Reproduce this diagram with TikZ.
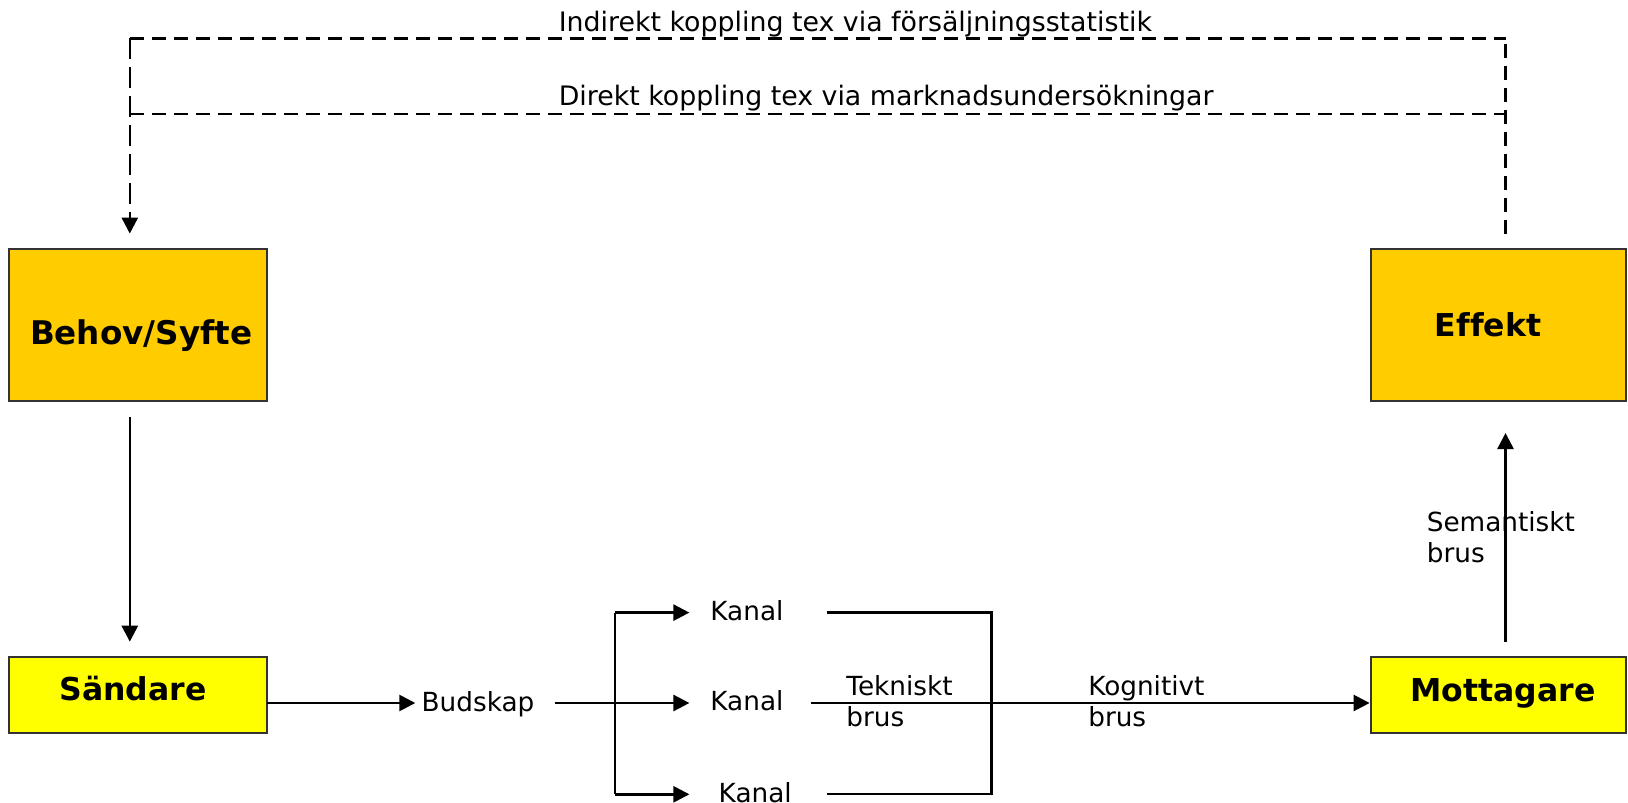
\documentclass[tikz,border=0pt]{standalone}
\usepackage{fontspec}
\setmainfont{DejaVu Sans}[Ligatures=NoCommon]
\usetikzlibrary{arrows.meta}
\definecolor{orangebox}{HTML}{FFCC00}
\definecolor{yellowbox}{HTML}{FFFF00}
\definecolor{boxline}{HTML}{333333}
\begin{document}
\begin{tikzpicture}[x=1pt,y=-1pt,
  tip/.style={-{Triangle[length=16pt,width=16pt]}},
  arr/.style={line width=2.6pt,tip},
  plain/.style={line width=2.3pt},
  dashh/.style={line width=2.3pt,dash pattern=on 14pt off 8pt},
  dashr/.style={line width=2.1pt,dash pattern=on 14pt off 8pt},
  dashl/.style={line width=2.6pt,dash pattern=on 21pt off 8pt},
  obox/.style={draw=boxline,line width=2pt,fill=orangebox,inner sep=0pt},
  ybox/.style={draw=boxline,line width=2pt,fill=yellowbox,inner sep=0pt},
  btxt/.style={font=\fontsize{31.5}{36}\selectfont\bfseries,inner sep=0pt},
  txt/.style={font=\fontsize{26.3}{31}\selectfont,inner sep=0pt,align=left},
  ttxt/.style={font=\fontsize{26.8}{31}\selectfont,inner sep=0pt}
]
\useasboundingbox (0,0) rectangle (1628,803);

% boxes
\node[obox,minimum width=257.5pt,minimum height=151.6pt] (b) at (138.05,325) {};
\node[obox,minimum width=255.4pt,minimum height=151.6pt] (e) at (1498.3,325) {};
\node[ybox,minimum width=257.5pt,minimum height=75.8pt] (s) at (138.05,695.1) {};
\node[ybox,minimum width=255.4pt,minimum height=75.8pt] (m) at (1498.3,695.1) {};

% box texts
\node[btxt,font=\fontsize{32.6}{36}\selectfont\bfseries] (bT) at (141.2,335.4) {Behov/Syfte};
\node[btxt] (eT) at (1488,325) {Effekt};
\node[btxt] (sT) at (132.9,688.9) {Sändare};
\node[btxt] (mT) at (1503,693) {Mottagare};

% text nodes
\node[txt,anchor=west] (bud) at (421.5,704.6) {Budskap};
\node[txt,anchor=west] (k1) at (710.2,610.5) {Kanal};
\node[txt,anchor=west] (k2) at (710.2,700.9) {Kanal};
\node[txt,anchor=west] (k3) at (718.5,792.2) {Kanal};
\node[txt,anchor=west] (tb) at (846.2,701.4) {Tekniskt\\brus};
\node[txt,anchor=west] (kb) at (1088.1,701.4) {Kognitivt\\brus};
\node[txt,anchor=west] (sb) at (1426.6,536.8) {Semantiskt\\brus};
\node[ttxt,anchor=west] (ind) at (558.6,23.9) {Indirekt koppling tex via försäljningsstatistik};
\node[ttxt,anchor=west] (dir) at (558.6,98.6) {Direkt koppling tex via marknadsundersökningar};

% feedback dashed lines
\coordinate (tl) at (129.8,38.4);
\coordinate (tr) at (1505.5,38.4);
\coordinate (dl) at (129.8,114.2);
\coordinate (dr) at (1505.5,114.2);
\coordinate (la) at (129.8,233.6);
\coordinate (ra) at (1505.5,233.6);
\draw[dashh] (tl) -- (tr);
\draw[dashh] (dl) -- (dr);
\draw[dashr] (ra) -- (tr);
\draw[dashl,tip] (tl) -- (la);

% Behov -> Sändare
\coordinate (b1) at (129.8,417.4);
\coordinate (s1) at (129.8,641.7);
\draw[arr] (b1) -- (s1);

% main line
\coordinate (sOut) at (266.8,703);
\coordinate (budIn) at (415.3,703);
\draw[arr] (sOut) -- (budIn);
\coordinate (budOut) at (554.5,703);
\coordinate (br) at (614.7,703);
\coordinate (brT) at (614.7,612.6);
\coordinate (brB) at (614.7,794.3);
\draw[plain] (budOut) -- (br);
\draw[plain] (brT) -- (brB);
\draw[arr] (brT) -- (689.4,612.6);
\draw[arr] (br) -- (689.4,703);
\draw[arr] (brB) -- (689.4,794.3);

% right bracket
\coordinate (c1) at (826.5,612.6);
\coordinate (c1r) at (991.6,612.6);
\coordinate (c3) at (826.5,794.3);
\coordinate (c3r) at (991.6,794.3);
\draw[plain] (c1) -- (c1r) -- (c3r) -- (c3);
\coordinate (c2) at (810.9,703);
\draw[arr] (c2) -- (m.west |- c2);

% Mottagare -> Effekt
\coordinate (m1) at (1505.5,641.7);
\coordinate (e1) at (1505.5,433);
\draw[arr] (m1) -- (e1);
\end{tikzpicture}
\end{document}
